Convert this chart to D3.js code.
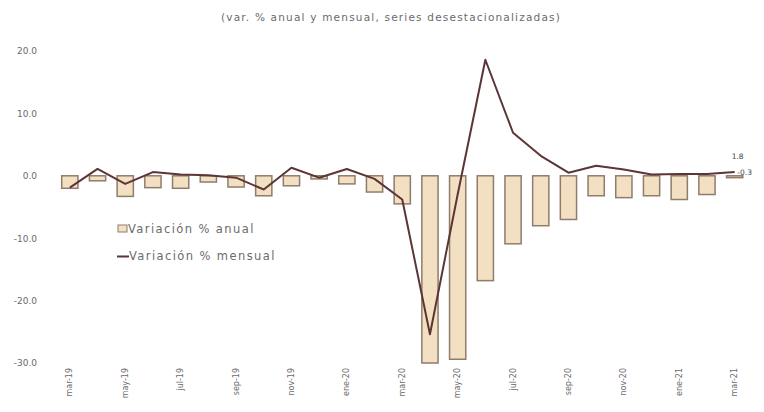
<!DOCTYPE html>
<html><head><meta charset="utf-8">
<script src="https://cdn.jsdelivr.net/npm/d3@7"></script>
<style>
body{margin:0;background:#fff;}
text{font-family:"DejaVu Sans","Noto Sans",sans-serif;}
</style></head>
<body><svg id="c" width="764" height="412"></svg>
<script>
const categories = ["mar-19","abr-19","may-19","jun-19","jul-19","ago-19","sep-19","oct-19","nov-19","dic-19","ene-20","feb-20","mar-20","abr-20","may-20","jun-20","jul-20","ago-20","sep-20","oct-20","nov-20","dic-20","ene-21","feb-21","mar-21"];
const anual = [-2.0,-0.8,-3.3,-1.9,-2.0,-1.0,-1.8,-3.2,-1.6,-0.5,-1.3,-2.6,-4.5,-30.0,-29.4,-16.8,-10.9,-8.0,-7.0,-3.2,-3.5,-3.2,-3.8,-3.0,-0.3];
const mensual = [-1.9,1.1,-1.3,0.6,0.2,0.1,-0.3,-2.2,1.3,-0.3,1.1,-0.5,-3.8,-25.4,-3.0,18.6,6.9,3.2,0.5,1.6,1.0,0.2,0.3,0.3,0.6];
const yTicks = [20,10,0,-10,-20,-30];
const endLabels = ["1.8","-0.3"];
const seriesNames = ["Variación % anual","Variación % mensual"];
const subtitle = "(var. % anual y mensual, series desestacionalizadas)";

const svg = d3.select("#c");
const x = d3.scaleBand().domain(categories).range([51,753.5]).padding(0.36);
const y = d3.scaleLinear().domain([-30,20]).range([363,51]);
const barFill = "#f3e0c2", barStroke = "#8f7d6b", lineCol = "#5c3536", txt = "#6b6b6b";
const fmt = d => d3.format(".1f")(d).replace("\u2212","-");

svg.append("text").attr("x",391).attr("y",21).attr("text-anchor","middle")
  .attr("font-size",10.5).attr("letter-spacing",1.2).attr("fill",txt).text(subtitle);

// y axis labels
const ya = d3.axisLeft(y).tickValues(yTicks).tickFormat(fmt).tickSize(0).tickPadding(0);
const yg = svg.append("g").attr("transform","translate(37,0)").call(ya);
yg.select(".domain").remove();
yg.selectAll("text").attr("font-size",9).attr("fill",txt).style("font-family","DejaVu Sans, sans-serif");

// x axis labels
const xa = d3.axisBottom(x).tickValues(categories.filter((d,i)=>i%2===0)).tickSize(0);
const xg = svg.append("g").attr("transform","translate(0,368)").call(xa);
xg.select(".domain").remove();
xg.selectAll("text").attr("font-size",8).attr("fill",txt)
  .attr("transform","rotate(-90)").attr("text-anchor","end").attr("dx","0").attr("dy","0.32em")
  .attr("x",0).attr("y",0).style("font-family","DejaVu Sans, sans-serif");

// bars
svg.append("g").selectAll("rect").data(anual).join("rect")
  .attr("x",(d,i)=>x(categories[i])+0.75)
  .attr("width",x.bandwidth()-1.5)
  .attr("y",d=>Math.min(y(d),y(0)))
  .attr("height",d=>Math.abs(y(d)-y(0)))
  .attr("fill",barFill).attr("stroke",barStroke).attr("stroke-width",1.5);

// line
const line = d3.line().x((d,i)=>x(categories[i])+x.bandwidth()/2).y(d=>y(d));
svg.append("path").datum(mensual).attr("d",line)
  .attr("fill","none").attr("stroke",lineCol).attr("stroke-width",2).attr("stroke-linejoin","round");

// end labels
const lx = x(categories[24])+x.bandwidth()/2;
svg.append("text").attr("x",lx+3).attr("y",y(mensual[24])-13).attr("font-size",7.5)
  .attr("fill","#444").attr("text-anchor","middle").text(endLabels[0]);
svg.append("text").attr("x",lx+10).attr("y",y(mensual[24])+3).attr("font-size",7.5)
  .attr("fill","#444").attr("text-anchor","middle").text(endLabels[1]);

// legend
const lg = svg.append("g");
lg.append("rect").attr("x",118).attr("y",225).attr("width",9).attr("height",7)
  .attr("fill",barFill).attr("stroke",barStroke).attr("stroke-width",1);
lg.append("text").attr("x",128).attr("y",233).attr("font-size",11.5).attr("letter-spacing",1.4).attr("fill",txt).text(seriesNames[0]);
lg.append("line").attr("x1",117).attr("x2",129).attr("y1",256.5).attr("y2",256.5)
  .attr("stroke",lineCol).attr("stroke-width",2);
lg.append("text").attr("x",129).attr("y",260).attr("font-size",11.5).attr("letter-spacing",1.4).attr("fill",txt).text(seriesNames[1]);
</script></body></html>
